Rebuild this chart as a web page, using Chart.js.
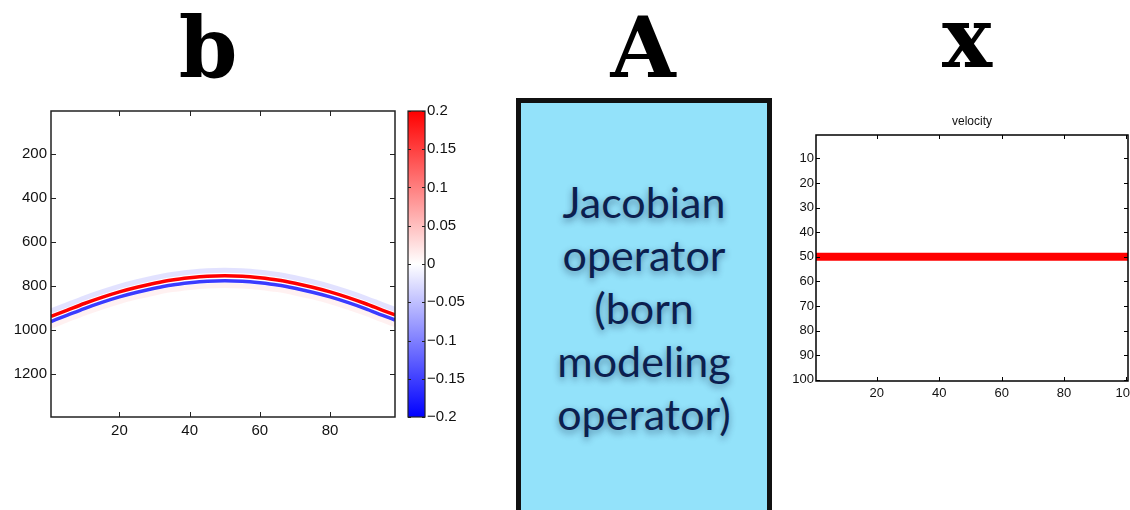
<!DOCTYPE html>
<html>
<head>
<meta charset="utf-8">
<script src="https://cdn.jsdelivr.net/npm/chart.js@4.4.1/dist/chart.umd.min.js"></script>
<style>
  html, body { margin: 0; padding: 0; background: #fff; width: 1130px; height: 510px; overflow: hidden; }
  .abs { position: absolute; }
  .big { font-family: "DejaVu Serif"; font-weight: bold; font-size: 84px; line-height: 86px; color: #000; width: 120px; text-align: center; }
  #jac { left: 516px; top: 98px; width: 256px; height: 430px; box-sizing: border-box; border: 5px solid #111; background: #93e2fa; }
  #jacText { left: 516px; width: 256px; top: 175px; text-align: center; font-family: Lato; font-size: 43px; line-height: 53px; color: #0c1f4f; text-shadow: 0 3px 7px rgba(0, 20, 60, 0.45); }
</style>
</head>
<body>
<div class="abs big" style="left:148px; top:5px;">b</div>
<div class="abs big" style="left:583px; top:5px;">A</div>
<div class="abs big" style="left:907px; top:-5px;">x</div>

<div class="abs" id="jac"></div>
<div class="abs" id="jacText">Jacobian<br>operator<br>(born<br>modeling<br>operator)</div>

<canvas id="dataChart" class="abs" width="400" height="370" style="left:0px; top:90px;"></canvas>
<canvas id="cbarChart" class="abs" width="80" height="370" style="left:400px; top:90px;"></canvas>
<canvas id="velChart" class="abs" width="370" height="310" style="left:775px; top:100px;"></canvas>

<script>
// shot record: trace positions and the times of each event band
const traceX     = [0.5, 5, 10, 15, 20, 25, 30, 35, 40, 45, 50, 55, 60, 65, 70, 75, 80, 85, 90, 95, 98.5];
const redPeak    = [937, 909, 878, 850, 825, 804, 786, 771, 761, 754, 752, 754, 761, 771, 786, 804, 825, 850, 878, 909, 930];
const blueTrough = [960, 932, 901, 873, 848, 827, 809, 794, 784, 777, 775, 777, 784, 794, 809, 827, 848, 873, 901, 932, 953];
const upperHalo  = [912, 884, 853, 825, 800, 779, 761, 746, 736, 729, 727, 729, 736, 746, 761, 779, 800, 825, 853, 884, 905];
const lowerHalo  = [981, 953, 922, 894, 869, 848, 830, 815, 805, 798, 796, 798, 805, 815, 830, 848, 869, 894, 922, 953, 974];
const dataTicksX = [20, 40, 60, 80];
const dataTicksY = [200, 400, 600, 800, 1000, 1200];

// colorbar
const cbarRange = [-0.2, 0.2];
const cbarTicks = [-0.2, -0.15, -0.1, -0.05, 0, 0.05, 0.1, 0.15, 0.2];

// velocity perturbation: one reflector row across the model
const velX = [0.5, 100.5];
const velDepth = [50, 50];
const velTicksX = [20, 40, 60, 80, 100];
const velTicksY = [10, 20, 30, 40, 50, 60, 70, 80, 90, 100];

const tickFont = { family: 'Liberation Sans', size: 15 };
const smallFont = { family: 'Liberation Sans', size: 13 };

function pts(xs, ys) {
  return xs.map((x, i) => ({ x: x, y: ys[i] }));
}

function fixTicks(list) {
  return function (scale) { scale.ticks = list.map(v => ({ value: v })); };
}

function minusFmt(v) {
  if (v === 0) return '0';
  return (v < 0 ? '\u2212' : '') + Math.abs(v);
}

// matlab style frame with inward tick marks on all four sides
const boxTicks = {
  id: 'boxTicks',
  afterDraw(chart, args, opts) {
    const ctx = chart.ctx, a = chart.chartArea;
    const len = opts.len || 5;
    ctx.save();
    ctx.strokeStyle = opts.color || '#111';
    ctx.lineWidth = 1;
    ctx.beginPath();
    if (opts.xTicks !== false) {
      const xs = chart.scales.x;
      xs.ticks.forEach(t => {
        const px = Math.round(xs.getPixelForValue(t.value)) + 0.5;
        ctx.moveTo(px, a.bottom); ctx.lineTo(px, a.bottom - len);
        ctx.moveTo(px, a.top); ctx.lineTo(px, a.top + len);
      });
    }
    const ys = chart.scales.y;
    ys.ticks.forEach(t => {
      const py = Math.round(ys.getPixelForValue(t.value)) + 0.5;
      ctx.moveTo(a.left, py); ctx.lineTo(a.left + len, py);
      ctx.moveTo(a.right, py); ctx.lineTo(a.right - len, py);
    });
    ctx.stroke();
    ctx.lineWidth = opts.frame || 1.5;
    ctx.strokeRect(a.left, a.top, a.width, a.height);
    ctx.restore();
  }
};

const noGrid = { display: false, drawTicks: false };
const plain = v => String(v);

// left panel: data b
new Chart(document.getElementById('dataChart'), {
  type: 'line',
  data: {
    datasets: [
      { data: pts(traceX, redPeak), borderColor: '#ff0000', borderWidth: 3.5 },
      { data: pts(traceX, blueTrough), borderColor: '#3b3bff', borderWidth: 3.5 },
      { data: pts(traceX, upperHalo), borderColor: 'rgba(140,140,255,0.25)', borderWidth: 5 },
      { data: pts(traceX, lowerHalo), borderColor: 'rgba(255,140,140,0.12)', borderWidth: 5 }
    ]
  },
  options: {
    responsive: false,
    animation: false,
    layout: { padding: { top: 21, right: 5, left: 0, bottom: 0 } },
    elements: { point: { radius: 0 }, line: { cubicInterpolationMode: 'monotone', fill: false } },
    plugins: { legend: { display: false }, tooltip: { enabled: false }, boxTicks: { len: 5, color: '#222' } },
    scales: {
      x: {
        type: 'linear', min: 0.5, max: 98.5,
        afterBuildTicks: fixTicks(dataTicksX),
        afterFit: s => { s.height = 43; },
        grid: noGrid, border: { display: false },
        ticks: { padding: 5, maxRotation: 0, font: tickFont, color: '#111', callback: plain }
      },
      y: {
        type: 'linear', reverse: true, min: 3, max: 1394,
        afterBuildTicks: fixTicks(dataTicksY),
        afterFit: s => { s.width = 51; },
        grid: noGrid, border: { display: false },
        ticks: { padding: 4, font: tickFont, color: '#111', callback: plain }
      }
    }
  },
  plugins: [boxTicks]
});

// colorbar next to the data panel
new Chart(document.getElementById('cbarChart'), {
  type: 'bar',
  data: {
    labels: [''],
    datasets: [{
      data: [cbarRange],
      barPercentage: 1,
      categoryPercentage: 1,
      borderWidth: 0,
      backgroundColor: function (c) {
        const a = c.chart.chartArea;
        if (!a) return '#fff';
        const g = c.chart.ctx.createLinearGradient(0, a.bottom, 0, a.top);
        g.addColorStop(0, '#0000ff');
        g.addColorStop(0.5, '#ffffff');
        g.addColorStop(1, '#ff0000');
        return g;
      }
    }]
  },
  options: {
    responsive: false,
    animation: false,
    layout: { padding: { top: 21, left: 8, right: 0, bottom: 43 } },
    plugins: { legend: { display: false }, tooltip: { enabled: false }, boxTicks: { len: 3, xTicks: false, frame: 1.2, color: '#222' } },
    scales: {
      x: { display: false },
      y: {
        position: 'right', min: -0.2, max: 0.2,
        afterBuildTicks: fixTicks(cbarTicks),
        afterFit: s => { s.width = 55; },
        grid: noGrid, border: { display: false },
        ticks: { padding: 2, font: tickFont, color: '#111', callback: v => minusFmt(v) }
      }
    }
  },
  plugins: [boxTicks]
});

// right panel: model perturbation x
new Chart(document.getElementById('velChart'), {
  type: 'line',
  data: {
    datasets: [
      { data: pts(velX, velDepth), borderColor: '#ff0000', borderWidth: 8, borderCapStyle: 'butt' }
    ]
  },
  options: {
    responsive: false,
    animation: false,
    layout: { padding: { top: 0, right: 17, left: 0, bottom: 0 } },
    elements: { point: { radius: 0 } },
    plugins: {
      legend: { display: false },
      tooltip: { enabled: false },
      title: {
        display: true, text: 'velocity', fullSize: false,
        color: '#111', font: { family: 'Liberation Sans', size: 12, weight: 'normal' },
        padding: { top: 14, bottom: 6.6 }
      },
      boxTicks: { len: 4, color: '#000' }
    },
    scales: {
      x: {
        type: 'linear', min: 0.5, max: 100.5,
        afterBuildTicks: fixTicks(velTicksX),
        afterFit: s => { s.height = 29; },
        grid: noGrid, border: { display: false },
        ticks: { padding: 5, maxRotation: 0, font: smallFont, color: '#111', callback: plain }
      },
      y: {
        type: 'linear', reverse: true, min: 0.5, max: 100.5,
        afterBuildTicks: fixTicks(velTicksY),
        afterFit: s => { s.width = 41; },
        grid: noGrid, border: { display: false },
        ticks: { padding: 2, font: smallFont, color: '#111', callback: plain }
      }
    }
  },
  plugins: [boxTicks]
});
</script>
</body>
</html>
